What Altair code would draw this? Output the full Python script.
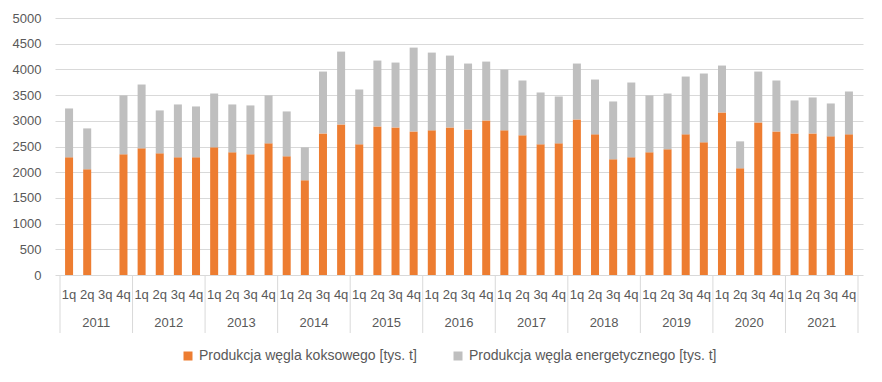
import altair as alt
import pandas as pd

years = [str(y) for y in range(2011, 2022)]
quarters = ["1q", "2q", "3q", "4q"]
series_names = ["Produkcja węgla koksowego [tys. t]", "Produkcja węgla energetycznego [tys. t]"]

coking = [2290, 2057, None, 2348,
          2464, 2367, 2290, 2290,
          2484, 2387, 2348, 2561,
          2309, 1843, 2755, 2930,
          2542, 2891, 2872, 2794,
          2814, 2872, 2833, 3008,
          2814, 2717, 2542, 2561,
          3027, 2736, 2251, 2290,
          2387, 2445, 2736, 2581,
          3163, 2076, 2969, 2794,
          2755, 2755, 2697, 2736]
energy = [950, 795, None, 1145,
          1242, 835, 1028, 989,
          1047, 931, 951, 932,
          873, 641, 1203, 1416,
          1067, 1281, 1261, 1630,
          1513, 1397, 1281, 1144,
          1183, 1067, 1009, 912,
          1087, 1067, 1125, 1455,
          1106, 1086, 1125, 1339,
          912, 524, 989, 990,
          641, 699, 640, 834]

rows = []
qrows = []
for yi, yr in enumerate(years):
    for qi, q in enumerate(quarters):
        i = yi * 4 + qi
        qrows.append({"idx": i, "label": q})
        for s, (name, vals) in enumerate(zip(series_names, [coking, energy])):
            if vals[i] is not None:
                rows.append({"idx": i, "series": name, "value": vals[i], "ord": s})
df = pd.DataFrame(rows)
dq = pd.DataFrame(qrows)
dy = pd.DataFrame({"idx": [yi * 4 + 1.5 for yi in range(len(years))], "label": years})
db = pd.DataFrame({"idx": [yi * 4 - 0.5 for yi in range(len(years) + 1)]})

FONT = "Liberation Sans"
TXT = "#595959"
GRID = "#D9D9D9"
xscale = alt.Scale(domain=[-0.5, 43.5], nice=False, zero=False)

bars = alt.Chart(df).mark_bar(size=8).encode(
    x=alt.X("idx:Q", scale=xscale, axis=None),
    y=alt.Y("value:Q", stack="zero", title=None,
            scale=alt.Scale(domain=[0, 5000], nice=False),
            axis=alt.Axis(values=list(range(0, 5001, 500)), format="d", grid=True, gridColor=GRID,
                          domain=False, ticks=False, labelPadding=14, labelFontSize=13,
                          labelColor=TXT, labelFont=FONT)),
    color=alt.Color("series:N",
                    scale=alt.Scale(domain=series_names, range=["#ED7D31", "#BFBFBF"]),
                    legend=alt.Legend(orient="none", legendX=126, legendY=331, direction="horizontal",
                                      title=None, symbolType="square", symbolSize=81,
                                      symbolStrokeWidth=0, labelFontSize=14, labelFont=FONT,
                                      labelColor=TXT, columnPadding=34, labelLimit=400)),
    order=alt.Order("ord:Q"),
)

qlabels = alt.Chart(dq).mark_text(fontSize=13, font=FONT, color=TXT, baseline="middle").encode(
    x=alt.X("idx:Q", scale=xscale, axis=None),
    y=alt.value(277),
    text="label:N",
)

ylabels = alt.Chart(dy).mark_text(fontSize=13, font=FONT, color=TXT, baseline="middle").encode(
    x=alt.X("idx:Q", scale=xscale, axis=None),
    y=alt.value(305),
    text="label:N",
)

seps = alt.Chart(db).mark_rule(color=GRID, strokeWidth=1).encode(
    x=alt.X("idx:Q", scale=xscale, axis=None),
    y=alt.value(257),
    y2=alt.value(315),
)

chart = alt.layer(seps, bars, qlabels, ylabels).properties(
    width=808, height=257,
    autosize=alt.AutoSizeParams(type="none"),
    padding={"left": 47, "top": 10, "right": 10, "bottom": 95},
).configure_view(stroke=None)

chart.save("out.html", embed_options={"renderer": "svg", "actions": False})
